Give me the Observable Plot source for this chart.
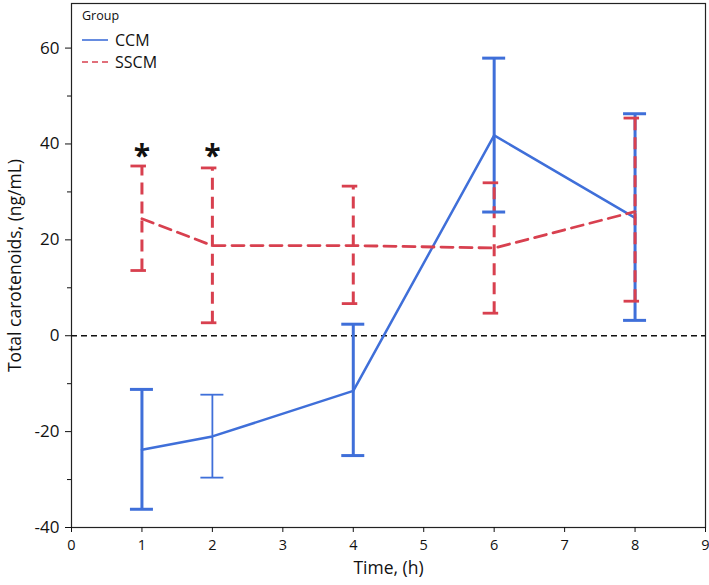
<!DOCTYPE html>
<html>
<head>
<meta charset="utf-8">
<script src="https://cdn.jsdelivr.net/npm/d3@7"></script>
<script src="https://cdn.jsdelivr.net/npm/@observablehq/plot@0.6"></script>
<style>
  html, body { margin: 0; padding: 0; background: #fff; }
  #wrap { position: relative; width: 709px; height: 585px; font-family: "Open Sans", "Noto Sans", sans-serif; }
  #legend { position: absolute; left: 82px; top: 6px; font-size: 16px; color: #111; }
  #legend .title { font-size: 12.5px; height: 20px; line-height: 20px; margin-bottom: 3px; }
  #legend .row { display: flex; align-items: center; height: 22px; }
  #legend svg { margin-right: 7px; }
</style>
</head>
<body>
<div id="wrap"></div>
<script>
const times = [1, 2, 4, 6, 8];
const ccmMean = [-23.8, -21.0, -11.5, 41.8, 24.6];
const ccmLow  = [-36.3, -29.7, -25.1, 25.7, 3.1];
const ccmHigh = [-11.3, -12.4, 2.3, 57.8, 46.2];
const sscmMean = [24.4, 18.8, 18.8, 18.3, 25.9];
const sscmLow  = [13.5, 2.6, 6.6, 4.6, 7.1];
const sscmHigh = [35.3, 34.9, 31.1, 31.8, 45.3];
const starTimes = [1, 2];
const starValue = 39;
const groups = ["CCM", "SSCM"];
const yMajor = [-40, -20, 0, 20, 40, 60];
const yMinor = [-30, -10, 10, 30, 50];
const xTicks = [0, 1, 2, 3, 4, 5, 6, 7, 8, 9];

const blue = "#3f6fd9";
const red = "#d8404f";

const ccm = times.map((t, i) => ({t, m: ccmMean[i], lo: ccmLow[i], hi: ccmHigh[i]}));
const sscm = times.map((t, i) => ({t, m: sscmMean[i], lo: sscmLow[i], hi: sscmHigh[i]}));
const caps = (arr) => arr.flatMap(d => [{t: d.t, v: d.lo}, {t: d.t, v: d.hi}]);
const stars = starTimes.map(t => ({t, v: starValue}));

const blueW = d => d.t === 2 ? 1.8 : 3;

const chart = Plot.plot({
  width: 709,
  height: 585,
  marginLeft: 71,
  marginRight: 4,
  marginTop: 3,
  marginBottom: 58,
  style: {fontFamily: "'Open Sans', 'Noto Sans', sans-serif", color: "#111", background: "#fff"},
  x: {type: "linear", domain: [0, 9]},
  y: {type: "linear", domain: [-40, 69.3]},
  marks: [
    Plot.frame({stroke: "#222", strokeWidth: 1.2}),
    Plot.ruleY([0], {stroke: "#111", strokeWidth: 1.4, strokeDasharray: "6,4"}),
    // CCM
    Plot.ruleX(ccm, {x: "t", y1: "lo", y2: "hi", stroke: blue, strokeWidth: blueW}),
    Plot.line(ccm, {x: "t", y: "m", stroke: blue, strokeWidth: 2.5}),
    // SSCM
    Plot.ruleX(sscm, {x: "t", y1: "lo", y2: "hi", stroke: red, strokeWidth: 3, strokeDasharray: "12,7"}),
    Plot.line(sscm, {x: "t", y: "m", stroke: red, strokeWidth: 2.8, strokeDasharray: "12,7"}),
    Plot.text(stars, {x: "t", y: "v", text: () => "*", fontSize: 30, fontWeight: "bold", fill: "#111", dy: 8}),
    Plot.axisY({ticks: yMajor, tickSize: 6, tickPadding: 6, fontSize: 17, label: "Total carotenoids, (ng/mL)", labelAnchor: "center", labelArrow: "none", labelOffset: 63, tickFormat: d => String(d)}),
    Plot.axisY({ticks: yMinor, tickSize: 4, label: null, text: null}),
    Plot.axisX({ticks: xTicks, tickSize: 5, tickPadding: 7, fontSize: 14.5, label: "Time, (h)", labelAnchor: "center", labelArrow: "none", labelOffset: 46})
  ]
});

// caps drawn as short horizontal segments positioned through the plot's scales
const sx = chart.scale("x"), sy = chart.scale("y");
const svgns = "http://www.w3.org/2000/svg";
const g = document.createElementNS(svgns, "g");
function addCap(t, v, left, right, color, w) {
  const l = document.createElementNS(svgns, "line");
  const X = sx.apply(t), Y = sy.apply(v);
  l.setAttribute("x1", X - left); l.setAttribute("x2", X + right);
  l.setAttribute("y1", Y); l.setAttribute("y2", Y);
  l.setAttribute("stroke", color); l.setAttribute("stroke-width", w);
  g.appendChild(l);
}
caps(ccm).forEach(d => addCap(d.t, d.v, 11.5, 11.5, blue, d.t === 2 ? 1.8 : 3));
caps(sscm).forEach(d => addCap(d.t, d.v, 11, 4.5, red, 2.8));
chart.appendChild(g);

// axis label font sizes; strip any arrows from labels
chart.querySelectorAll("text").forEach(t => {
  if (/Total carotenoids|Time,/.test(t.textContent)) {
    t.textContent = t.textContent.replace(/[↑↓→←]\s*|\s*[↑↓→←]/g, "");
    t.style.fontSize = "17.5px";
  }
});

document.getElementById("wrap").appendChild(chart);

const legend = document.createElement("div");
legend.id = "legend";
legend.innerHTML = `<div class="title">Group</div>` +
  groups.map((name, i) => `<div class="row"><svg width="26" height="6"><line x1="0" x2="26" y1="3" y2="3" stroke="${i === 0 ? blue : red}" stroke-width="1.6" ${i === 1 ? 'stroke-dasharray="6,4"' : ''}/></svg><span>${name}</span></div>`).join("");
document.getElementById("wrap").appendChild(legend);
</script>
</body>
</html>
